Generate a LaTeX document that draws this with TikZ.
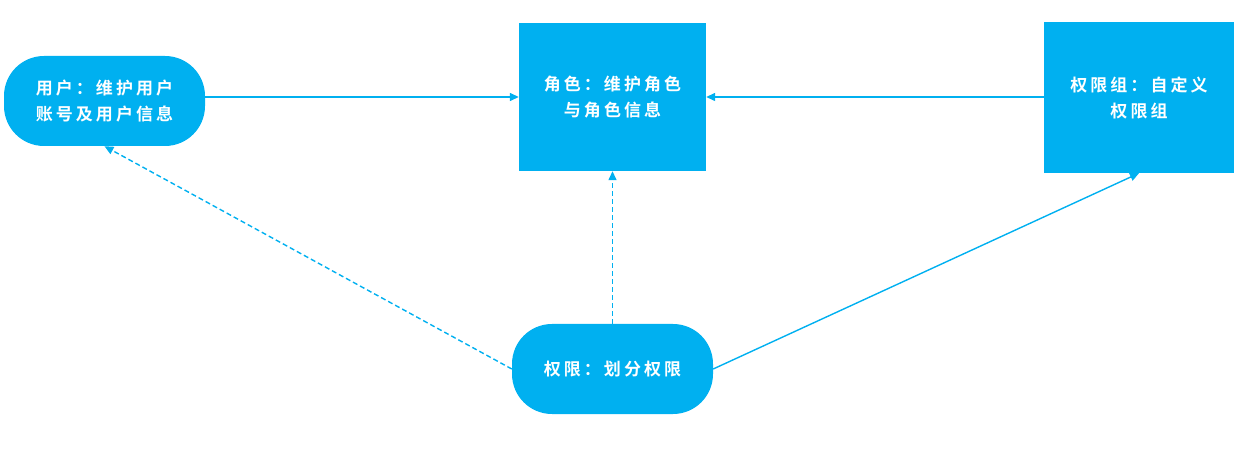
\documentclass[tikz,border=0pt]{standalone}
\usepackage{fontspec}
\newfontfamily\cjk[LetterSpace=18]{Noto Sans CJK SC Bold}
\definecolor{roleblue}{RGB}{0, 176, 240}
\usetikzlibrary{arrows.meta, positioning}
\tikzset{
  stadium/.style={fill=roleblue, rounded corners=40pt, minimum width=201pt, minimum height=90pt, inner sep=0pt, align=center, text=white, font=\cjk\fontsize{17pt}{26pt}\selectfont},
  squarebox/.style={fill=roleblue, minimum width=187pt, minimum height=148pt, inner sep=0pt, align=center, text=white, font=\cjk\fontsize{17pt}{26pt}\selectfont},
  link/.style={draw=roleblue, line width=1.4pt, -{Triangle[length=9pt, width=8pt]}},
  dashlink/.style={link, dash pattern=on 5pt off 3pt},
}

\begin{document}
\begin{tikzpicture}[x=1pt, y=-1pt]
  \useasboundingbox (0,0) rectangle (1251,454);
  % boxes
  \node[stadium] (user) at (104.5,101) {用户：维护用户\\账号及用户信息};
  \node[squarebox] (role) at (612.5,97) {角色：维护角色\\与角色信息};
  \node[squarebox, minimum width=190pt, minimum height=151pt] (group) at (1139,97.5) {权限组：自定义\\权限组};
  \node[stadium] (perm) at (612.5,369) {权限：划分权限};
  % connectors
  \draw[link] (user.east |- role.west) -- (role.west);
  \draw[link] (group.west |- role.east) -- (role.east);
  \draw[dashlink] (perm.north) -- (role.south);
  \draw[dashlink] (perm.west) -- (user.south);
  \draw[link] (perm.east) -- (group.south);
\end{tikzpicture}
\end{document}
